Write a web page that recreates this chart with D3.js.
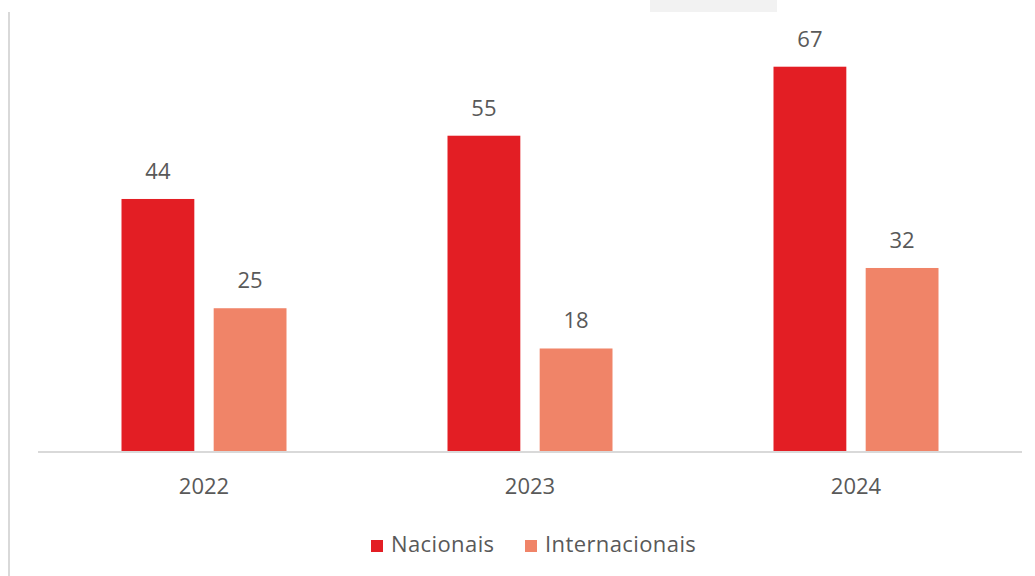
<!DOCTYPE html>
<html>
<head>
<meta charset="utf-8">
<script src="https://cdn.jsdelivr.net/npm/d3@7"></script>
<style>
  body { margin: 0; background: #fff; }
  text { font-family: "Open Sans", sans-serif; fill: #595959; }
</style>
</head>
<body>
<div id="chart"></div>
<script>
//Chart data
var years = ["2022", "2023", "2024"];
var seriesNames = ["Nacionais", "Internacionais"];
var nacionais = [44, 55, 67];
var internacionais = [25, 18, 32];
var colors = ["#e31e24", "#f08468"];

var w = 1035;
var h = 576;
var baseY = 452; //where the bars stand

//Build rows for each year
var rows = years.map(function(y, i) {
    return {year: y, values: [nacionais[i], internacionais[i]]};
});

var svg = d3.select("#chart")
            .append("svg")
            .attr("width", w)
            .attr("height", h);

//light box left from the title above (cut off)
svg.append("rect")
    .attr("x", 650).attr("y", 0)
    .attr("width", 127).attr("height", 12)
    .attr("fill", "#f2f2f2");

//left frame line
svg.append("line")
    .attr("x1", 9).attr("x2", 9)
    .attr("y1", 12).attr("y2", h)
    .attr("stroke", "#d9d9d9")
    .attr("stroke-width", 2);

//x scale for years
var xscale = d3.scaleBand()
                .domain(years)
                .range([41, 1019]);

//inner scale for the two series
var xinner = d3.scaleBand()
                .domain(seriesNames)
                .range([0, 165])
                .paddingInner(0.21);

var yscale = d3.scaleLinear()
                .domain([0, 78.6])
                .range([baseY, 0]);

var groups = svg.selectAll("g.year")
    .data(rows)
    .enter()
    .append("g")
    .attr("class", "year")
    .attr("transform", d => "translate(" + (xscale(d.year) + xscale.bandwidth() / 2 - 82.5) + ",0)");

groups.selectAll("rect")
    .data(d => d.values.map((v, i) => ({name: seriesNames[i], value: v, idx: i})))
    .enter()
    .append("rect")
    .attr("x", d => xinner(d.name))
    .attr("y", d => yscale(d.value))
    .attr("width", xinner.bandwidth())
    .attr("height", d => baseY - yscale(d.value))
    .attr("fill", d => colors[d.idx]);

//value labels above bars
groups.selectAll("text.val")
    .data(d => d.values.map((v, i) => ({name: seriesNames[i], value: v})))
    .enter()
    .append("text")
    .attr("class", "val")
    .attr("x", d => xinner(d.name) + xinner.bandwidth() / 2)
    .attr("y", d => yscale(d.value) - 20)
    .attr("text-anchor", "middle")
    .style("font-size", "22px")
    .text(d => d.value);

//x axis (baseline and year labels)
var xaxis = d3.axisBottom(xscale).tickSize(0).tickPadding(26);
var ax = svg.append("g")
    .attr("transform", "translate(0," + baseY + ")")
    .call(xaxis);
ax.select(".domain")
    .attr("d", "M38,0H1022")
    .attr("stroke", "#d9d9d9")
    .attr("stroke-width", 2);
ax.selectAll("text")
    .style("font-family", "'Open Sans', sans-serif")
    .style("font-size", "22px")
    .attr("fill", "#595959");

//legend
var legendX = [371, 525];
var legend = svg.selectAll("g.legend")
    .data(seriesNames)
    .enter()
    .append("g")
    .attr("class", "legend")
    .attr("transform", (d, i) => "translate(" + legendX[i] + ",540)");

legend.append("rect")
    .attr("width", 12).attr("height", 12)
    .attr("fill", (d, i) => colors[i]);

legend.append("text")
    .attr("x", 20)
    .attr("y", 12)
    .style("font-size", "22px")
    .style("letter-spacing", "0.4px")
    .text(d => d);
</script>
</body>
</html>
